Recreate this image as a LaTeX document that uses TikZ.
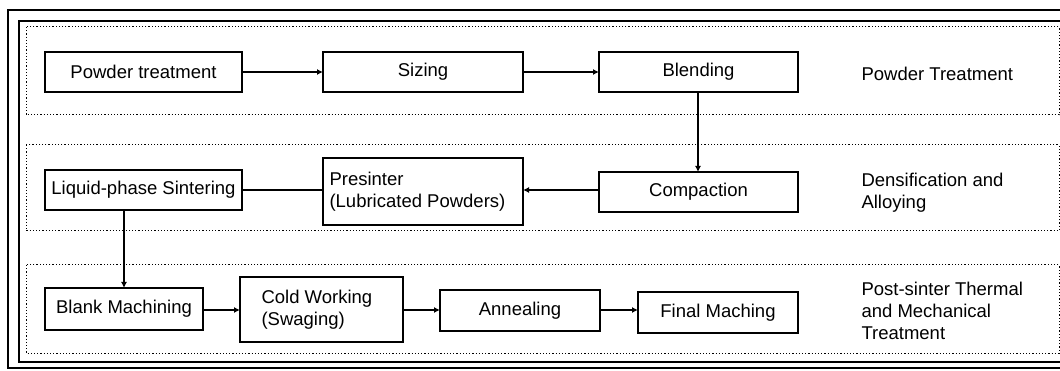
\documentclass[tikz,border=0pt]{standalone}
\usepackage{fontspec}
\setmainfont{Liberation Sans}
\usetikzlibrary{arrows.meta}
\begin{document}
\begin{tikzpicture}[x=1pt,y=-1pt,
  procbox/.style={draw,line width=1.5pt},
  band/.style={line width=1pt,dash pattern=on 1.2pt off 2pt},
  conn/.style={line width=1.4pt,-{Latex[length=6pt,width=6pt]}},
  lbl/.style={font=\fontsize{18.5}{22}\selectfont},
  side/.style={lbl,anchor=west,align=left}]
\useasboundingbox (0,0) rectangle (1060,371);
\fill[white] (0,0) rectangle (1060,371);
% frames
\draw[line width=1.4pt] (8,10) rectangle (1075,368);
\draw[line width=1.4pt] (19,21) rectangle (1075,362);
% bands
\draw[band] (26,27) rectangle (1059,115);
\draw[band] (26,145) rectangle (1059,231);
\draw[band] (26,265) rectangle (1059,353);
% row 1
\draw[procbox] (45,52) rectangle (242,92) node[midway,lbl] (pt) {Powder treatment};
\coordinate (ptE) at (242,72);
\draw[procbox] (323,52) rectangle (523,92) node[midway,lbl] (sz) {Sizing};
\coordinate (szW) at (323,72); \coordinate (szE) at (523,72);
\draw[procbox] (599,52) rectangle (798,92) node[midway,lbl] (bl) {Blending};
\coordinate (blW) at (599,72); \coordinate (blS) at (698,92);
\node[side] (t1) at (858,74) {Powder Treatment};
% row 2
\draw[procbox] (45,170) rectangle (242,210) node[midway,lbl] (lps) {Liquid-phase Sintering};
\coordinate (lpsE) at (242,190); \coordinate (lpsS) at (124,210);
\draw[procbox] (323,158) rectangle (523,225);
\node[lbl,anchor=west,align=left] (ps) at (326,192) {Presinter\\(Lubricated Powders)};
\coordinate (psW) at (323,190); \coordinate (psE) at (523,190);
\draw[procbox] (599,172) rectangle (798,212) node[midway,lbl] (cp) {Compaction};
\coordinate (cpW) at (599,190); \coordinate (cpN) at (698,172);
\node[side] (t2) at (858,193) {Densification and\\Alloying};
% row 3
\draw[procbox] (45,288) rectangle (203,330) node[midway,lbl] (bm) {Blank Machining};
\coordinate (bmN) at (124,288); \coordinate (bmE) at (203,310);
\draw[procbox] (240,277) rectangle (403,342);
\node[lbl,anchor=west,align=left] (cw) at (258,310) {Cold Working\\(Swaging)};
\coordinate (cwW) at (240,310); \coordinate (cwE) at (403,310);
\draw[procbox] (440,290) rectangle (600,331) node[midway,lbl] (an) {Annealing};
\coordinate (anW) at (440,310); \coordinate (anE) at (600,310);
\draw[procbox] (638,292) rectangle (798,333) node[midway,lbl] (fm) {Final Maching};
\coordinate (fmW) at (638,311);
\node[side] (t3) at (858,311) {Post-sinter Thermal\\and Mechanical\\Treatment};
% connectors
\draw[conn] (ptE) -- (szW);
\draw[conn] (szE) -- (blW);
\draw[conn] (blS) -- (cpN);
\draw[conn] (cpW) -- (psE);
\draw[line width=1.4pt] (psW) -- (lpsE);
\draw[conn] (lpsS) -- (bmN);
\draw[conn] (bmE) -- (cwW);
\draw[conn] (cwE) -- (anW);
\draw[conn] (anE) -- (fmW |- anE);
\end{tikzpicture}
\end{document}
